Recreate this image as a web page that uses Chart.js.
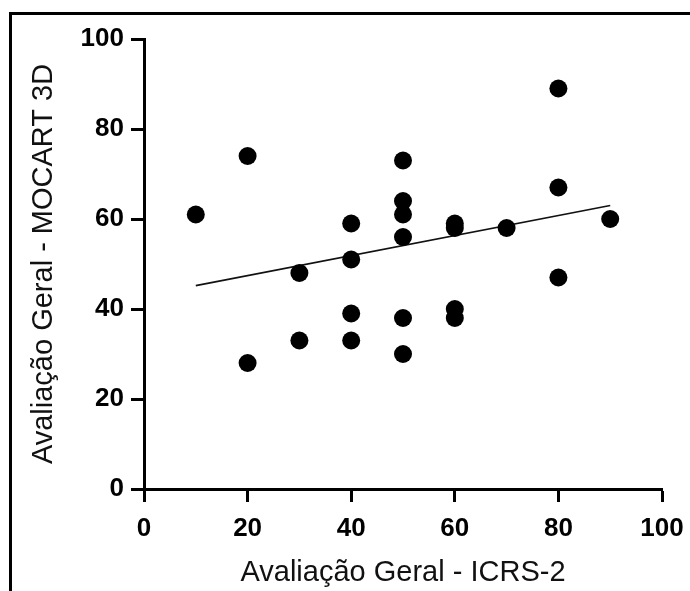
<!DOCTYPE html>
<html>
<head>
<meta charset="utf-8">
<script src="https://cdn.jsdelivr.net/npm/chart.js@4"></script>
<style>
  html, body { margin: 0; padding: 0; background: #ffffff; overflow: hidden; }
  #wrap { position: relative; width: 690px; height: 591px; }
  #frame { position: absolute; left: 9px; top: 12px; width: 720px; height: 620px;
           border-top: 3px solid #000; border-left: 3px solid #000; }
  canvas { position: absolute; left: 0; top: 0; }
</style>
</head>
<body>
<div id="wrap">
  <div id="frame"></div>
  <canvas id="c" width="690" height="591"></canvas>
</div>
<script>
// ICRS-2 overall score (x) vs MOCART 3D overall score (y)
const icrsValues   = [10, 20, 20, 30, 30, 40, 40, 40, 40, 50, 50, 50, 50, 50, 50, 60, 60, 60, 60, 70, 80, 80, 80, 90];
const mocartValues = [61, 74, 28, 48, 33, 59, 51, 39, 33, 73, 64, 61, 56, 38, 30, 59, 58, 40, 38, 58, 89, 67, 47, 60];
// fitted regression line end points
const fitX = [10, 90];
const fitY = [45.2, 63];
const xTicks = [0, 20, 40, 60, 80, 100];
const yTicks = [0, 20, 40, 60, 80, 100];
const xTitle = 'Avaliação Geral - ICRS-2';
const yTitle = 'Avaliação Geral - MOCART 3D';

const points = icrsValues.map((x, i) => ({ x: x, y: mocartValues[i] }));
const fitLine = fitX.map((x, i) => ({ x: x, y: fitY[i] }));

const tickFont = { family: '"Liberation Sans", Arial, sans-serif', size: 26, weight: 'bold' };
const titleFont = { family: '"Liberation Sans", Arial, sans-serif', size: 29, weight: 'normal' };

function axisCommon(ticksArr, pad) {
  return {
    type: 'linear',
    min: 0,
    max: 100,
    afterBuildTicks: (s) => { s.ticks = ticksArr.map(v => ({ value: v })); },
    ticks: { font: tickFont, color: '#000', padding: pad, maxRotation: 0 },
    grid: { display: true, drawOnChartArea: false, drawTicks: true, tickLength: 13,
            tickWidth: 3, tickColor: '#000', color: '#000' },
    border: { display: true, color: '#000', width: 3 }
  };
}

const xAxis = axisCommon(xTicks, 11);
xAxis.title = { display: true, text: xTitle, font: titleFont, color: '#111', padding: { top: 0, bottom: 1 } };
xAxis.afterFit = (s) => { s.height = 102; s.paddingLeft = 0; s.paddingRight = 0; };

const yAxis = axisCommon(yTicks, 7);
yAxis.title = { display: true, text: yTitle, font: titleFont, color: '#111', padding: { top: 27, bottom: 0 } };
yAxis.afterFit = (s) => { s.width = 144; s.paddingTop = 0; s.paddingBottom = 0; };

new Chart(document.getElementById('c'), {
  type: 'scatter',
  data: {
    datasets: [
      {
        type: 'line',
        data: fitLine,
        borderColor: '#111',
        borderWidth: 1.6,
        pointRadius: 0,
        fill: false,
        tension: 0,
        order: 2
      },
      {
        type: 'scatter',
        data: points,
        backgroundColor: '#000',
        borderColor: '#000',
        borderWidth: 0,
        pointRadius: 9,
        pointHoverRadius: 9,
        clip: false,
        order: 1
      }
    ]
  },
  options: {
    responsive: false,
    animation: false,
    devicePixelRatio: 1,
    layout: { padding: { left: 0, right: 28, top: 39, bottom: 0 } },
    plugins: { legend: { display: false }, tooltip: { enabled: false } },
    scales: { x: xAxis, y: yAxis }
  }
});
</script>
</body>
</html>
